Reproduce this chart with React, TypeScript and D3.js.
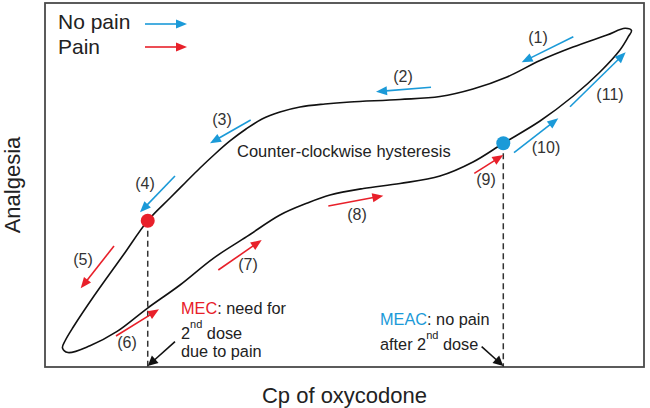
import React from 'react';
import * as d3 from 'd3';

const W = 650;
const H = 408;
const frame = { left: 45, right: 644, top: 3, bottom: 367 };
const FONT = 'Liberation Sans, Arial, Helvetica, sans-serif';

const BLUE = '#1b9ad8';
const RED = '#e8202a';

// hysteresis loop (Cp, analgesia in % of frame), starting at the bottom-left tip,
// lower branch to the right, then upper branch back to the left
const loopCp = [
  2.92, 3.84, 7.51, 11.97, 17.08, 22.54, 28.1, 33.67, 39.23, 43.69, 47.58, 53.14, 59.27, 65.94,
  71.45, 76.51, 82.64, 88.2, 92.65, 95.99, 97.38, 97.91, 96.83, 93.82, 88.15, 82.64, 77.13, 71.45,
  65.94, 59.27, 50.92, 46.74, 42.57, 39.23, 36.23, 33.56, 30.88, 28.38, 25.88, 23.37, 20.87, 17.15,
  13.07, 8.06, 4.72, 3.34,
];
const loopAnalgesia = [
  5.22, 3.98, 5.85, 9.7, 16.13, 22.53, 29.86, 35.8, 41.76, 44.97, 47.25, 49.04, 50.41, 52.47,
  56.32, 61.46, 67.58, 74.45, 81.04, 87.09, 90.74, 92.45, 93.05, 91.21, 87.91, 84.2, 79.67, 76.37,
  74.31, 73.49, 72.8, 72.25, 71.43, 70.05, 68.13, 65.38, 62.09, 58.52, 54.67, 50.55, 46.43, 40.19,
  30.77, 19.23, 10.99, 7.14,
];

// numbered arrows
const arrowLabels = ['(1)', '(2)', '(3)', '(4)', '(5)', '(6)', '(7)', '(8)', '(9)', '(10)', '(11)'];
const arrowPain = [false, false, false, false, true, true, true, true, true, false, false];
const arrowFrom = [
  [88.2, 90.74], [64.44, 76.84], [34.34, 67.86], [21.7, 52.47], [11.52, 33.24], [11.85, 8.52],
  [28.93, 26.65], [47.3, 44.23], [71.67, 53.21], [78.3, 58.87], [87.65, 71.51],
];
const arrowTo = [
  [79.58, 83.71], [55.26, 75.63], [27.55, 61.46], [15.86, 42.5], [5.96, 21.62], [19.03, 15.85],
  [36.18, 34.89], [56.48, 47.06], [76.51, 58.24], [85.69, 68.32], [96.94, 86.46],
];
const labelAt = [
  [82.3, 89.01], [59.77, 78.3], [29.55, 66.48], [16.69, 48.9], [6.34, 28.02], [13.69, 5.22],
  [33.89, 26.65], [52.09, 40.38], [73.62, 50.0], [83.64, 58.79], [94.32, 73.35],
];

// MEC (red) and MEAC (blue) points on the loop
const mec = [17.15, 40.19];
const meac = [76.51, 61.46];
const mecPointerFrom = [21.7, 6.95];
const meacPointerFrom = [72.9, 5.58];

const xScale = d3.scaleLinear().domain([0, 100]).range([frame.left, frame.right]);
const yScale = d3.scaleLinear().domain([0, 100]).range([frame.bottom, frame.top]);

type ArrowProps = { x1: number; y1: number; x2: number; y2: number; color: string; len?: number; half?: number };

const Arrow = ({ x1, y1, x2, y2, color, len = 11, half = 4.5 }: ArrowProps) => {
  const dx = x2 - x1;
  const dy = y2 - y1;
  const d = Math.hypot(dx, dy);
  const ux = dx / d;
  const uy = dy / d;
  const bx = x2 - ux * len;
  const by = y2 - uy * len;
  const pts = [
    [x2, y2],
    [bx - uy * half, by + ux * half],
    [bx + uy * half, by - ux * half],
  ];
  return (
    <g>
      <line x1={x1} y1={y1} x2={bx + ux} y2={by + uy} stroke={color} strokeWidth={1.6} />
      <polygon points={pts.map((p) => p.join(',')).join(' ')} fill={color} />
    </g>
  );
};

export default function App() {
  const loop = d3
    .line<number>()
    .x((i) => xScale(loopCp[i]))
    .y((i) => yScale(loopAnalgesia[i]))
    .curve(d3.curveCatmullRomClosed.alpha(0.5));

  const idx = d3.range(loopCp.length);

  return (
    <svg
      width={W}
      height={H}
      style={{ position: 'absolute', left: 0, top: 0, background: '#fff' }}
      fontFamily={FONT}
    >
      <rect
        x={frame.left}
        y={frame.top}
        width={frame.right - frame.left}
        height={frame.bottom - frame.top}
        fill="none"
        stroke="#4a4a4a"
        strokeWidth={1.8}
      />

      {/* legend */}
      <text x={58} y={29} fontSize={21} fill="#222">No pain</text>
      <text x={58} y={54} fontSize={21} fill="#222">Pain</text>
      <Arrow x1={145} y1={24} x2={187} y2={24} color={BLUE} />
      <Arrow x1={145} y1={47} x2={187} y2={47} color={RED} />

      {/* dashed guides */}
      {[mec, meac].map((p, i) => (
        <line
          key={i}
          x1={xScale(p[0])}
          x2={xScale(p[0])}
          y1={yScale(p[1])}
          y2={frame.bottom}
          stroke="#333"
          strokeWidth={1.5}
          strokeDasharray="6,4"
        />
      ))}

      <path d={loop(idx) ?? ''} fill="none" stroke="#111" strokeWidth={1.6} />

      <circle cx={xScale(mec[0])} cy={yScale(mec[1])} r={7} fill={RED} />
      <circle cx={xScale(meac[0])} cy={yScale(meac[1])} r={7} fill={BLUE} />

      {arrowLabels.map((lab, i) => (
        <g key={lab}>
          <Arrow
            x1={xScale(arrowFrom[i][0])}
            y1={yScale(arrowFrom[i][1])}
            x2={xScale(arrowTo[i][0])}
            y2={yScale(arrowTo[i][1])}
            color={arrowPain[i] ? RED : BLUE}
          />
          <text
            x={xScale(labelAt[i][0])}
            y={yScale(labelAt[i][1])}
            fontSize={16}
            textAnchor="middle"
            fill="#333"
          >
            {lab}
          </text>
        </g>
      ))}

      <text x={237} y={157} fontSize={16.5} fill="#222">Counter-clockwise hysteresis</text>

      {/* MEC note */}
      <text x={181} y={314} fontSize={16.3} fill="#222">
        <tspan fill={RED}>MEC</tspan>: need for
      </text>
      <text x={181} y={339} fontSize={16.3} fill="#222">
        2<tspan fontSize={11} dy={-11}>nd</tspan>
        <tspan dy={11}> dose</tspan>
      </text>
      <text x={181} y={357} fontSize={16.3} fill="#222">due to pain</text>
      <Arrow
        x1={xScale(mecPointerFrom[0])}
        y1={yScale(mecPointerFrom[1])}
        x2={xScale(mec[0])}
        y2={frame.bottom - 1}
        color="#111"
        len={10}
        half={5}
      />

      {/* MEAC note */}
      <text x={380} y={325} fontSize={16.3} fill="#222">
        <tspan fill={BLUE}>MEAC</tspan>: no pain
      </text>
      <text x={380} y={350} fontSize={16.3} fill="#222">
        after 2<tspan fontSize={11} dy={-11}>nd</tspan>
        <tspan dy={11}> dose</tspan>
      </text>
      <Arrow
        x1={xScale(meacPointerFrom[0])}
        y1={yScale(meacPointerFrom[1])}
        x2={xScale(meac[0])}
        y2={frame.bottom - 1}
        color="#111"
        len={10}
        half={5}
      />

      {/* axis titles */}
      <text
        transform={`translate(20,${(frame.top + frame.bottom) / 2}) rotate(-90)`}
        fontSize={22}
        textAnchor="middle"
        fill="#222"
      >
        Analgesia
      </text>
      <text x={(frame.left + frame.right) / 2} y={403} fontSize={22} textAnchor="middle" fill="#222">
        Cp of oxycodone
      </text>
    </svg>
  );
}
